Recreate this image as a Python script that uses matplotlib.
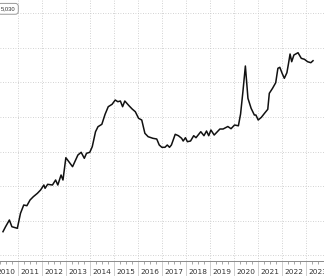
import numpy as np
import matplotlib
matplotlib.use("Agg")
import matplotlib.pyplot as plt
import matplotlib.transforms as mtransforms

# decimal year, index level
dates = [2010.374, 2010.482, 2010.641, 2010.745, 2010.972, 2011.104, 2011.239, 2011.371,
         2011.502, 2011.638, 2011.809, 2011.941, 2012.077, 2012.128, 2012.236, 2012.435,
         2012.567, 2012.659, 2012.794, 2012.874, 2012.994, 2013.097, 2013.273, 2013.496,
         2013.632, 2013.763, 2013.855, 2013.990, 2014.094, 2014.230, 2014.333, 2014.493,
         2014.628, 2014.760, 2014.919, 2015.051, 2015.159, 2015.266, 2015.358, 2015.450,
         2015.625, 2015.757, 2015.888, 2016.024, 2016.156, 2016.287, 2016.423, 2016.622,
         2016.781, 2016.885, 2016.993, 2017.124, 2017.220, 2017.312, 2017.392, 2017.551,
         2017.683, 2017.818, 2017.882, 2017.978, 2018.057, 2018.189, 2018.321, 2018.416,
         2018.616, 2018.748, 2018.855, 2018.947, 2019.038, 2019.174, 2019.413, 2019.545,
         2019.744, 2019.876, 2020.023, 2020.183, 2020.274, 2020.370, 2020.474, 2020.581,
         2020.713, 2020.848, 2020.912, 2021.008, 2021.140, 2021.271, 2021.407, 2021.471,
         2021.606, 2021.738, 2021.829, 2021.909, 2022.005, 2022.097, 2022.204, 2022.268,
         2022.336, 2022.404, 2022.496, 2022.667, 2022.803, 2022.935, 2023.066, 2023.201,
         2023.293]
values = [5365, 5654, 6042, 5654, 5562, 6430, 6910, 6869,
          7199, 7390, 7587, 7778, 8067, 7876, 8107, 8067,
          8356, 8067, 8645, 8356, 9646, 9455, 9126, 9802,
          9959, 9611, 9901, 9959, 10283, 11150, 11440, 11578,
          12157, 12597, 12735, 12984, 12886, 12926, 12597, 12926,
          12654, 12463, 12307, 11925, 11827, 11058, 10861, 10768,
          10728, 10381, 10248, 10248, 10381, 10248, 10381, 11000,
          10919, 10768, 10612, 10803, 10572, 10612, 10919, 10803,
          11150, 10919, 11191, 10919, 11249, 10959, 11306, 11306,
          11451, 11324, 11538, 11492, 12174, 13447, 14951, 13082,
          12504, 12116, 12116, 11827, 11983, 12215, 12446, 13372,
          13661, 13985, 14818, 14876, 14529, 14239, 14563, 15067,
          15645, 15200, 15587, 15720, 15396, 15339, 15200, 15142,
          15258]

years = list(range(2010, 2024))
y_grid = [4000, 6000, 8000, 10000, 12000, 14000, 16000, 18000]
last_label = "5,030"

fig = plt.figure(figsize=(3.24, 2.76), dpi=100)
ax = fig.add_axes([0, 15 / 276, 1, 261 / 276])

ax.plot(dates, values, color="#111111", linewidth=1.1)

ax.set_xlim(2010.374, 2023.293)
ax.set_ylim(3670, 18770)

ax.set_yticks(y_grid)
ax.set_yticklabels([])
ax.tick_params(axis="y", length=0)

# year boundaries: gridlines + separators in the label strip
ax.set_xticks([y + 1 for y in years[:-1]])
ax.set_xticklabels([])
ax.set_xticks([y + q / 4 for y in years for q in (1, 2, 3)], minor=True)
ax.tick_params(axis="x", which="major", direction="out", length=11, width=0.6, color="#c8c8c8")
ax.tick_params(axis="x", which="minor", direction="out", length=1.8, width=0.6, color="#999999")

ax.grid(True, which="major", color="#c4c4c4", linestyle=(0, (1, 2)), linewidth=0.6)

for s in ("top", "left", "right"):
    ax.spines[s].set_visible(False)
ax.spines["bottom"].set_color("#8a8a8a")
ax.spines["bottom"].set_linewidth(0.7)

trans = mtransforms.blended_transform_factory(ax.transData, ax.transAxes)
for y in years:
    ax.text(y + 0.5, -0.042, str(y), transform=trans, ha="center", va="center",
            fontsize=5.3, color="#333333", clip_on=False)

fig.text(0.0475, 0.968, last_label, ha="right", va="center", fontsize=4.2,
         family="Liberation Sans", color="#333333",
         bbox=dict(boxstyle="round,pad=0.5", fc="white", ec="#9a9a9a", lw=0.7))

fig.savefig("out.png", dpi=100)
